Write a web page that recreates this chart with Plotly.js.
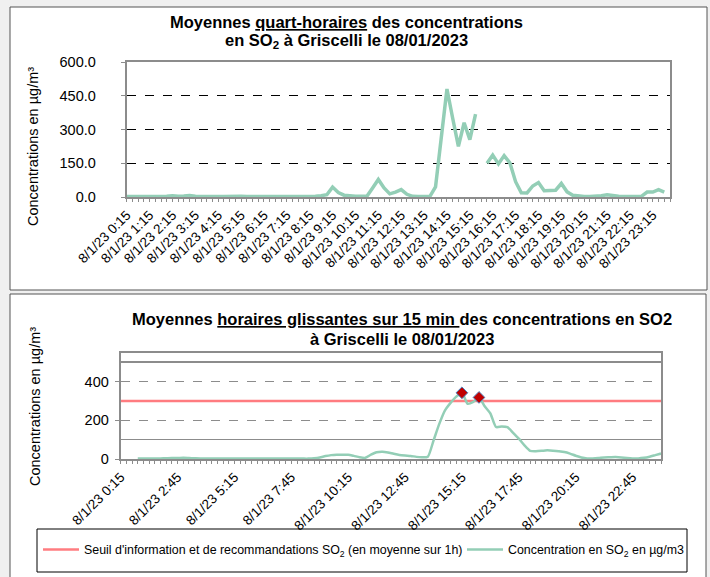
<!DOCTYPE html>
<html>
<head>
<meta charset="utf-8">
<script src="https://cdn.plot.ly/plotly-3.0.1.min.js"></script>
<style>
  html, body { margin: 0; padding: 0; background: #f0f0f0; }
  #chart { width: 710px; height: 577px; }
</style>
</head>
<body>
<div id="chart"></div>
<script>
// Categories: quarter-hours of 08/01/2023, 0:15 .. 24:00
const categories = [];
for (let k = 1; k <= 96; k++) {
  const m = k * 15;
  const h = Math.floor(m / 60), mm = m % 60;
  categories.push('8/1/23 ' + h + ':' + (mm < 10 ? '0' + mm : mm));
}

// Top chart: quarter-hour means (µg/m³)
const quartHoraire = [
  2, 2, 2, 1, 2, 2, 3, 3, 6, 3, 4, 7, 3, 2, 2, 2,
  2, 2, 3, 4, 3, 2, 2, 2, 2, 2, 2, 2, 2, 2, 2, 2,
  2, 3, 6, 10, 44, 20, 8, 4, 3, 3, 3, 40, 78, 40, 14, 22,
  33, 12, 3, 2, 2, 2, 45, 250, 480, 350, 225, 330, 255, 368, null, 150,
  186, 147, 184, 152, 68, 19, 18, 49, 64, 28, 28, 30, 60, 23, 8, 3,
  2, 2, 3, 6, 10, 5, 3, 2, 2, 2, 3, 22, 22, 33, 22, null
];

// Bottom chart: sliding hourly means (µg/m³)
const horaireGlissante = [
  null, null, null, 2, 2, 2, 2, 3, 4, 5, 5, 6, 5, 4, 3, 3,
  2, 2, 2, 2, 2, 2, 2, 2, 2, 2, 2, 2, 2, 2, 2, 2,
  2, 2, 4, 8, 15, 20, 22, 22, 22, 16, 9, 6, 22, 35, 38, 34,
  27, 21, 18, 16, 11, 9, 12, 95, 180, 250, 290, 322, 342, 285, 295, 318,
  272, 235, 165, 168, 165, 135, 105, 70, 42, 40, 42, 45, 43, 40, 36, 28,
  17, 8, 3, 3, 5, 8, 9, 10, 8, 5, 3, 3, 6, 12, 20, 28
];

// Exceedances of the information threshold (markers)
const depassementX = ['8/1/23 15:15', '8/1/23 16:00'];
const depassementY = [342, 318];

// Information / recommendation threshold (µg/m³, hourly mean)
const seuilValue = 300;

// Tick labels
const topTickLabels = ['0:15','1:15','2:15','3:15','4:15','5:15','6:15','7:15','8:15','9:15','10:15','11:15',
  '12:15','13:15','14:15','15:15','16:15','17:15','18:15','19:15','20:15','21:15','22:15','23:15'];
const bottomTickLabels = ['0:15','2:45','5:15','7:45','10:15','12:45','15:15','17:45','20:15','22:45'];

const W = 710, H = 577;
const px = x => x / W;
const py = y => 1 - y / H;

const topText = categories.map(c => topTickLabels.includes(c.split(' ')[1]) ? c : '');
const botText = categories.map(c => bottomTickLabels.includes(c.split(' ')[1]) ? c : '');

const green = '#93ceb6';
const red = '#ff7c80';
const FONT = 'Liberation Sans, Arial, sans-serif';

const traces = [
  {
    x: categories, y: quartHoraire, type: 'scatter', mode: 'lines',
    line: { color: green, width: 3.5 }, connectgaps: false,
    xaxis: 'x', yaxis: 'y', showlegend: false, hoverinfo: 'skip'
  },
  {
    x: categories, y: categories.map(() => seuilValue),
    type: 'scatter', mode: 'lines', line: { color: red, width: 2.5 },
    name: "Seuil d'information et de recommandations SO<sub>2</sub> (en moyenne sur 1h)",
    xaxis: 'x2', yaxis: 'y2', showlegend: true, legend: 'legend'
  },
  {
    x: categories, y: horaireGlissante, type: 'scatter', mode: 'lines',
    line: { color: green, width: 2.5, shape: 'spline', smoothing: 0.6 },
    name: 'Concentration en SO<sub>2</sub> en µg/m3',
    xaxis: 'x2', yaxis: 'y2', showlegend: true, legend: 'legend2'
  },
  {
    x: depassementX, y: depassementY, type: 'scatter', mode: 'markers',
    marker: { symbol: 'diamond', size: 9, color: '#c00000', line: { color: '#4f81bd', width: 1 } },
    xaxis: 'x2', yaxis: 'y2', showlegend: false
  }
];

const axisCommon = {
  type: 'category', categoryorder: 'array', categoryarray: categories,
  tickangle: -45, ticks: 'outside', ticklen: 3, tickcolor: '#8c8c8c', tickwidth: 1,
  tickfont: { family: FONT, size: 13.5, color: '#000' },
  showgrid: false, showline: true, linecolor: '#8c8c8c', linewidth: 2, mirror: true,
  tickmode: 'array', tickvals: categories, range: [0, 95], fixedrange: true
};

const legendCommon = {
  orientation: 'h', xanchor: 'left', y: py(550), yanchor: 'middle',
  bgcolor: 'rgba(0,0,0,0)', font: { family: FONT, size: 12.4, color: '#000' },
  itemwidth: 36
};

const layout = {
  width: W, height: H,
  margin: { l: 0, r: 0, t: 0, b: 0 },
  paper_bgcolor: '#f0f0f0', plot_bgcolor: '#ffffff',
  font: { family: FONT, color: '#000' },
  xaxis: Object.assign({}, axisCommon, {
    domain: [px(126.7), px(670)], anchor: 'y', ticktext: topText
  }),
  yaxis: {
    domain: [py(197), py(62)], anchor: 'x', range: [0, 600], dtick: 150, tick0: 0,
    tickformat: '.1f', ticks: 'outside', ticklen: 4, tickcolor: '#8c8c8c', ticklabelstandoff: 22,
    tickfont: { family: FONT, size: 14.5, color: '#000' },
    showgrid: true, gridcolor: '#000', griddash: 'dash', gridwidth: 1,
    zeroline: false, showline: true, linecolor: '#8c8c8c', linewidth: 2, mirror: true
  },
  xaxis2: Object.assign({}, axisCommon, {
    domain: [px(120.7), px(661)], anchor: 'y2', ticktext: botText
  }),
  yaxis2: {
    domain: [py(459), py(352.5)], anchor: 'x2', range: [0, 550], dtick: 200, tick0: 0,
    ticks: 'outside', ticklen: 4, tickcolor: '#8c8c8c', ticklabelstandoff: 3,
    tickfont: { family: FONT, size: 14.5, color: '#000' },
    showgrid: true, gridcolor: '#8c8c8c', griddash: 'dash', gridwidth: 1.5,
    minor: { dtick: 100, tick0: 0, showgrid: true, gridcolor: '#8c8c8c', gridwidth: 1.5, griddash: 'solid', ticks: '' },
    zeroline: false, showline: true, linecolor: '#8c8c8c', linewidth: 2, mirror: true
  },
  showlegend: true,
  legend: Object.assign({}, legendCommon, { x: px(38) }),
  legend2: Object.assign({}, legendCommon, { x: px(462) }),
  shapes: [
    { type: 'rect', xref: 'paper', yref: 'paper', x0: px(10), x1: px(707), y0: py(7), y1: py(290),
      fillcolor: '#ffffff', line: { color: '#555555', width: 1 }, layer: 'below' },
    { type: 'rect', xref: 'paper', yref: 'paper', x0: px(10), x1: px(706), y0: py(294), y1: py(590),
      fillcolor: '#ffffff', line: { color: '#555555', width: 1 }, layer: 'below' },
    { type: 'rect', xref: 'paper', yref: 'paper', x0: px(37), x1: px(687), y0: py(529), y1: py(572),
      fillcolor: 'rgba(0,0,0,0)', line: { color: '#000000', width: 1 }, layer: 'above' }
  ],
  annotations: [
    { xref: 'paper', yref: 'paper', x: px(346), y: py(22), xanchor: 'center', yanchor: 'middle',
      showarrow: false,
      text: '<b>Moyennes <u>quart-horaires</u> des concentrations</b>',
      font: { family: FONT, size: 16.5, color: '#000' } },
    { xref: 'paper', yref: 'paper', x: px(346), y: py(41), xanchor: 'center', yanchor: 'middle',
      showarrow: false,
      text: '<b>en SO<sub>2</sub> à Griscelli le 08/01/2023</b>',
      font: { family: FONT, size: 16.5, color: '#000' } },
    { xref: 'paper', yref: 'paper', x: px(402), y: py(319), xanchor: 'center', yanchor: 'middle',
      showarrow: false,
      text: '<b>Moyennes <u>horaires glissantes sur 15 min </u>des concentrations en SO2</b>',
      font: { family: FONT, size: 16.5, color: '#000' } },
    { xref: 'paper', yref: 'paper', x: px(402), y: py(339), xanchor: 'center', yanchor: 'middle',
      showarrow: false,
      text: '<b>à Griscelli le 08/01/2023</b>',
      font: { family: FONT, size: 16.5, color: '#000' } },
    { xref: 'paper', yref: 'paper', x: px(33), y: py(147), xanchor: 'center', yanchor: 'middle',
      showarrow: false, textangle: -90, text: 'Concentrations en µg/m³',
      font: { family: FONT, size: 14.5, color: '#000' } },
    { xref: 'paper', yref: 'paper', x: px(35), y: py(407), xanchor: 'center', yanchor: 'middle',
      showarrow: false, textangle: -90, text: 'Concentrations en µg/m³',
      font: { family: FONT, size: 14.5, color: '#000' } }
  ]
};

Plotly.newPlot('chart', traces, layout, { displayModeBar: false, staticPlot: true });
</script>
</body>
</html>
